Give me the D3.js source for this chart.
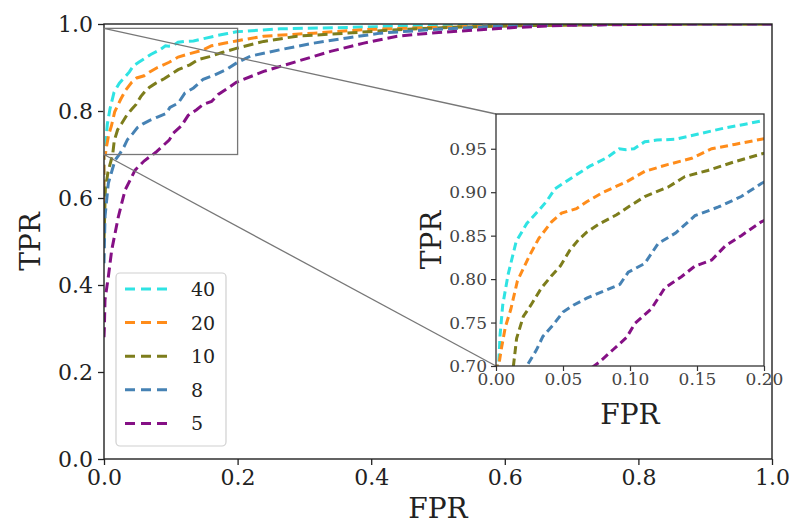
<!DOCTYPE html>
<html><head><meta charset="utf-8">
<script src="https://cdnjs.cloudflare.com/ajax/libs/d3/7.8.5/d3.min.js"></script>
<style>body{margin:0;background:#fff}svg{display:block}text{font-family:"DejaVu Serif",serif;}</style>
</head><body><svg id="c" width="792" height="527"></svg>
<script>
const seriesLabels = ["40", "20", "10", "8", "5"];
const seriesColors = ["#2fe3e3", "#ff8c1a", "#7d7d1c", "#4682b4", "#851085"];
const roc40 = [[0,0.55],[0,0.70],[0.002,0.70],[0.003,0.735],[0.005,0.77],[0.009,0.805],[0.015,0.843],[0.023,0.864],[0.033,0.881],[0.038,0.890],[0.044,0.904],[0.052,0.912],[0.060,0.920],[0.070,0.930],[0.083,0.940],[0.092,0.950],[0.097,0.949],[0.103,0.950],[0.111,0.958],[0.120,0.960],[0.134,0.961],[0.151,0.967],[0.171,0.974],[0.185,0.978],[0.198,0.982],[0.264,0.989],[0.364,0.992],[0.439,0.995],[0.55,0.997],[0.7,0.999],[0.85,1],[1,1]];
const roc20 = [[0,0.55],[0,0.70],[0.002,0.70],[0.004,0.72],[0.007,0.745],[0.011,0.765],[0.016,0.798],[0.025,0.827],[0.032,0.847],[0.0415,0.866],[0.049,0.876],[0.060,0.881],[0.0677,0.889],[0.080,0.900],[0.0975,0.912],[0.111,0.924],[0.1286,0.932],[0.146,0.939],[0.161,0.950],[0.178,0.955],[0.198,0.961],[0.239,0.972],[0.314,0.979],[0.389,0.987],[0.489,0.992],[0.6,0.996],[0.75,0.999],[0.9,1],[1,1]];
const roc10 = [[0,0.5],[0.002,0.62],[0.006,0.66],[0.013,0.70],[0.0154,0.732],[0.0204,0.757],[0.026,0.770],[0.034,0.790],[0.0415,0.804],[0.048,0.815],[0.055,0.833],[0.0614,0.845],[0.0677,0.854],[0.0776,0.864],[0.090,0.874],[0.0987,0.883],[0.111,0.895],[0.1286,0.906],[0.141,0.918],[0.158,0.925],[0.178,0.935],[0.198,0.944],[0.239,0.960],[0.289,0.972],[0.364,0.979],[0.439,0.987],[0.514,0.992],[0.62,0.996],[0.75,0.999],[0.9,1],[1,1]];
const roc8 = [[0,0.45],[0.0015,0.557],[0.0065,0.634],[0.0165,0.687],[0.023,0.70],[0.030,0.718],[0.035,0.734],[0.043,0.748],[0.050,0.762],[0.0577,0.770],[0.0677,0.778],[0.080,0.786],[0.0925,0.794],[0.0987,0.808],[0.111,0.818],[0.121,0.841],[0.134,0.853],[0.1485,0.873],[0.166,0.883],[0.183,0.895],[0.198,0.910],[0.219,0.926],[0.264,0.941],[0.314,0.956],[0.364,0.968],[0.414,0.979],[0.489,0.987],[0.589,0.995],[0.7,0.998],[0.85,1],[1,1]];
const roc5 = [[0,0.28],[0.0005,0.30],[0.0015,0.366],[0.0065,0.419],[0.0115,0.48],[0.0215,0.557],[0.0315,0.618],[0.0465,0.664],[0.06,0.685],[0.0776,0.705],[0.0875,0.719],[0.0975,0.733],[0.1037,0.749],[0.116,0.766],[0.126,0.790],[0.1386,0.803],[0.1485,0.815],[0.161,0.822],[0.171,0.838],[0.183,0.850],[0.198,0.866],[0.239,0.891],[0.289,0.914],[0.339,0.937],[0.389,0.956],[0.439,0.972],[0.489,0.979],[0.564,0.987],[0.614,0.992],[0.689,0.997],[0.8,0.999],[0.9,1],[1,1]];
const mainTicks = [0, 0.2, 0.4, 0.6, 0.8, 1.0];
const insetXTicks = [0, 0.05, 0.10, 0.15, 0.20];
const insetYTicks = [0.70, 0.75, 0.80, 0.85, 0.90, 0.95];
const zoomBox = {x0: 0, x1: 0.2, y0: 0.7, y1: 0.99};

const series = [roc40, roc20, roc10, roc8, roc5];
const svg = d3.select("#c");
const M = {l: 104, r: 772, t: 24, b: 459};
const I = {l: 496, r: 764, t: 114, b: 366};
const x = d3.scaleLinear().domain([0, 1]).range([M.l, M.r]);
const y = d3.scaleLinear().domain([0, 1]).range([M.b, M.t]);
const xi = d3.scaleLinear().domain([zoomBox.x0, zoomBox.x1]).range([I.l, I.r]);
const yi = d3.scaleLinear().domain([zoomBox.y0, zoomBox.y1]).range([I.b, I.t]);
const txt = "#222";

const defs = svg.append("defs");
defs.append("clipPath").attr("id", "cm").append("rect").attr("x", M.l).attr("y", M.t).attr("width", M.r - M.l).attr("height", M.b - M.t);
defs.append("clipPath").attr("id", "ci").append("rect").attr("x", I.l).attr("y", I.t).attr("width", I.r - I.l).attr("height", I.b - I.t);

// main lines
const lm = d3.line().x(d => x(d[0])).y(d => y(d[1]));
const gm = svg.append("g").attr("clip-path", "url(#cm)");
series.forEach((s, i) => gm.append("path").attr("d", lm(s)).attr("fill", "none")
  .attr("stroke", seriesColors[i]).attr("stroke-width", 3).attr("stroke-dasharray", "10,5"));

// main axes
const ax = svg.append("g").attr("transform", `translate(0,${M.b})`)
  .call(d3.axisBottom(x).tickValues(mainTicks).tickFormat(d3.format(".1f")).tickSize(6).tickPadding(4));
const ay = svg.append("g").attr("transform", `translate(${M.l},0)`)
  .call(d3.axisLeft(y).tickValues(mainTicks).tickFormat(d3.format(".1f")).tickSize(6).tickPadding(5));
[ax, ay].forEach(g => {
  g.select(".domain").remove();
  g.selectAll("line").attr("stroke", "#222").attr("stroke-width", 1.3);
  g.selectAll("text").attr("font-family", "DejaVu Serif").attr("font-size", 22).attr("fill", txt);
});
svg.append("rect").attr("x", M.l).attr("y", M.t).attr("width", M.r - M.l).attr("height", M.b - M.t)
  .attr("fill", "none").attr("stroke", "#222").attr("stroke-width", 1.4);
svg.append("text").attr("x", (M.l + M.r) / 2).attr("y", 518).attr("text-anchor", "middle")
  .attr("font-size", 28).attr("fill", txt).text("FPR");
svg.append("text").attr("transform", `translate(40,${(M.t + M.b) / 2}) rotate(-90)`).attr("text-anchor", "middle")
  .attr("font-size", 28).attr("fill", txt).text("TPR");

// zoom indicator
svg.append("rect").attr("x", x(zoomBox.x0)).attr("y", y(zoomBox.y1)).attr("width", x(zoomBox.x1) - x(zoomBox.x0))
  .attr("height", y(zoomBox.y0) - y(zoomBox.y1)).attr("fill", "none").attr("stroke", "#777").attr("stroke-width", 1.3);
svg.append("line").attr("x1", x(zoomBox.x0)).attr("y1", y(zoomBox.y1)).attr("x2", I.l).attr("y2", I.t).attr("stroke", "#777").attr("stroke-width", 1.3);
svg.append("line").attr("x1", x(zoomBox.x0)).attr("y1", y(zoomBox.y0)).attr("x2", I.l).attr("y2", I.b).attr("stroke", "#777").attr("stroke-width", 1.3);

// legend
const lg = svg.append("g");
lg.append("rect").attr("x", 116).attr("y", 273).attr("width", 110).attr("height", 173).attr("rx", 4)
  .attr("fill", "#fff").attr("fill-opacity", 0.85).attr("stroke", "#d0d0d0").attr("stroke-width", 1.2);
seriesLabels.forEach((lab, i) => {
  const cy = 289 + i * 33.6;
  lg.append("line").attr("x1", 125).attr("x2", 168).attr("y1", cy).attr("y2", cy)
    .attr("stroke", seriesColors[i]).attr("stroke-width", 3).attr("stroke-dasharray", "10,6");
  lg.append("text").attr("x", 191).attr("y", cy + 7).attr("font-size", 19).attr("fill", txt).text(lab);
});

// inset
svg.append("rect").attr("x", I.l).attr("y", I.t).attr("width", I.r - I.l).attr("height", I.b - I.t).attr("fill", "#fff");
const li = d3.line().x(d => xi(d[0])).y(d => yi(d[1]));
const gi = svg.append("g").attr("clip-path", "url(#ci)");
series.forEach((s, i) => gi.append("path").attr("d", li(s)).attr("fill", "none")
  .attr("stroke", seriesColors[i]).attr("stroke-width", 3).attr("stroke-dasharray", "8,4.5"));
const ix = svg.append("g").attr("transform", `translate(0,${I.b})`)
  .call(d3.axisBottom(xi).tickValues(insetXTicks).tickFormat(d3.format(".2f")).tickSize(5).tickPadding(2));
const iy = svg.append("g").attr("transform", `translate(${I.l},0)`)
  .call(d3.axisLeft(yi).tickValues(insetYTicks).tickFormat(d3.format(".2f")).tickSize(5).tickPadding(4));
[ix, iy].forEach(g => {
  g.select(".domain").remove();
  g.selectAll("line").attr("stroke", "#333").attr("stroke-width", 1.2);
  g.selectAll("text").attr("font-family", "DejaVu Serif").attr("font-size", 17).attr("fill", "#444");
});
svg.append("rect").attr("x", I.l).attr("y", I.t).attr("width", I.r - I.l).attr("height", I.b - I.t)
  .attr("fill", "none").attr("stroke", "#333").attr("stroke-width", 1.3);
svg.append("text").attr("x", (I.l + I.r) / 2).attr("y", 424).attr("text-anchor", "middle")
  .attr("font-size", 28).attr("fill", txt).text("FPR");
svg.append("text").attr("transform", `translate(441,${(I.t + I.b) / 2}) rotate(-90)`).attr("text-anchor", "middle")
  .attr("font-size", 28).attr("fill", txt).text("TPR");
</script></body></html>
